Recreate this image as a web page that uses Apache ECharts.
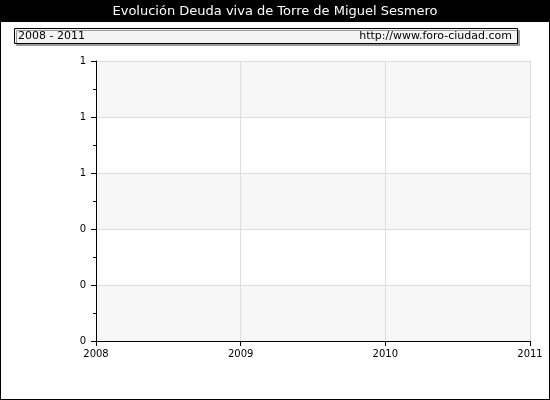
<!DOCTYPE html>
<html>
<head>
<meta charset="utf-8">
<script src="https://cdn.jsdelivr.net/npm/echarts@6/dist/echarts.min.js"></script>
<style>
html,body{margin:0;padding:0;background:#fff;}
#frame{position:absolute;left:0;top:0;width:548px;height:398px;border:1px solid #000;}
#chart{position:absolute;left:0;top:0;width:550px;height:400px;}
</style>
</head>
<body>
<div id="frame"></div>
<div id="chart"></div>
<script>
'use strict';
// 数据
var titleText = 'Evolución Deuda viva de Torre de Miguel Sesmero';
var periodText = '2008 - 2011';
var siteText = 'http://www.foro-ciudad.com';
var years = [2008, 2009, 2010, 2011];
var deuda = []; // sin datos

var myChart = echarts.init(document.getElementById('chart'));
var font = 'DejaVu Sans';
var option = {
    animation: false,
    textStyle: { fontFamily: font },
    graphic: [
        { type: 'rect', shape: { x: 1, y: 1, width: 548, height: 21 }, style: { fill: '#000' } },
        { type: 'text', left: 'center', top: 5, style: { text: titleText, fill: '#fff', font: '13px ' + font } },
        { type: 'rect', shape: { x: 14.5, y: 28.5, width: 503, height: 15 }, style: { fill: '#f4f4f4', stroke: '#000', lineWidth: 1, shadowColor: '#999', shadowOffsetX: 2, shadowOffsetY: 2 } },
        { type: 'text', left: 18, top: 31, style: { text: periodText, fill: '#000', font: '11px ' + font } },
        { type: 'text', right: 38, top: 31, style: { text: siteText, fill: '#000', font: '11px ' + font } }
    ],
    grid: { left: 96, right: 20, top: 61, bottom: 59 },
    xAxis: {
        type: 'value',
        min: years[0], max: years[years.length - 1], interval: 1,
        axisLine: { lineStyle: { color: '#000' } },
        axisTick: { show: true, length: 5, lineStyle: { color: '#000' } },
        axisLabel: { color: '#000', fontSize: 10, formatter: function (v) { return String(v); } },
        splitLine: { show: true, lineStyle: { color: '#ddd' } }
    },
    yAxis: {
        type: 'value',
        min: 0, max: 1, interval: 0.2,
        axisLine: { show: true, lineStyle: { color: '#000' } },
        axisTick: { show: true, length: 5, lineStyle: { color: '#000' } },
        minorTick: { show: true, splitNumber: 2, length: 3, lineStyle: { color: '#000' } },
        axisLabel: { color: '#000', fontSize: 10, margin: 10, formatter: function (v) { return Math.round(v).toString(); } },
        splitLine: { show: true, lineStyle: { color: '#ddd' } },
        splitArea: { show: true, areaStyle: { color: ['#f7f7f7', '#ffffff'] } }
    },
    series: [{
        type: 'line',
        data: deuda,
        itemStyle: { color: '#4b6cb7' }
    }]
};
myChart.setOption(option);
</script>
</body>
</html>
